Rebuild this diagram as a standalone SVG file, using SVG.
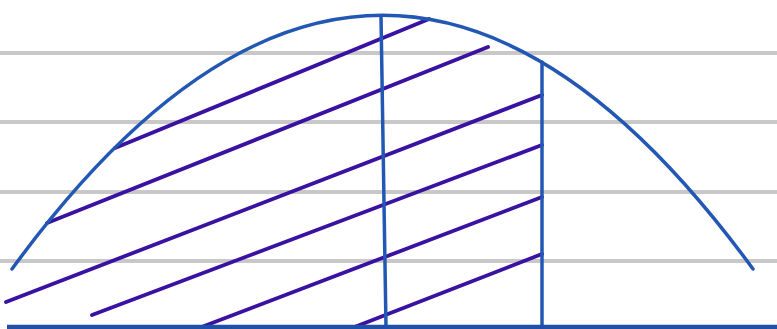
<svg xmlns="http://www.w3.org/2000/svg" width="777" height="329" viewBox="0 0 777 329">
<style>
.grid{stroke:#c8c8c8;stroke-width:4;fill:none}
.blue{stroke:#2258b4;stroke-width:3.5;fill:none;stroke-linecap:round}
.hatch{stroke:#3a12a2;stroke-width:3.8;fill:none;stroke-linecap:round}
</style>
<rect width="777" height="329" fill="#ffffff"/>
<g id="grid">
<line class="grid" x1="0" y1="53" x2="777" y2="53"/>
<line class="grid" x1="0" y1="122" x2="777" y2="122"/>
<line class="grid" x1="0" y1="192" x2="777" y2="192"/>
<line class="grid" x1="0" y1="261" x2="777" y2="261"/>
</g>
<g id="hatching">
<line class="hatch" x1="115" y1="148" x2="429" y2="19"/>
<line class="hatch" x1="47" y1="223" x2="488" y2="47"/>
<line class="hatch" x1="6" y1="302" x2="542" y2="95"/>
<line class="hatch" x1="92" y1="315" x2="542" y2="145"/>
<line class="hatch" x1="199" y1="328" x2="542" y2="197"/>
<line class="hatch" x1="352" y1="328" x2="542" y2="254"/>
</g>
<g id="curve">
<path class="blue" d="M12,269 Q382.5,-238.3 753,269"/>
</g>
<g id="verticals">
<line class="blue" x1="381" y1="16" x2="386" y2="327"/>
<line class="blue" x1="542" y1="62" x2="542" y2="327"/>
</g>
<g id="baseline">
<line x1="7" y1="327" x2="777" y2="327" stroke="#1f4fa6" stroke-width="4.5"/>
</g>
</svg>
